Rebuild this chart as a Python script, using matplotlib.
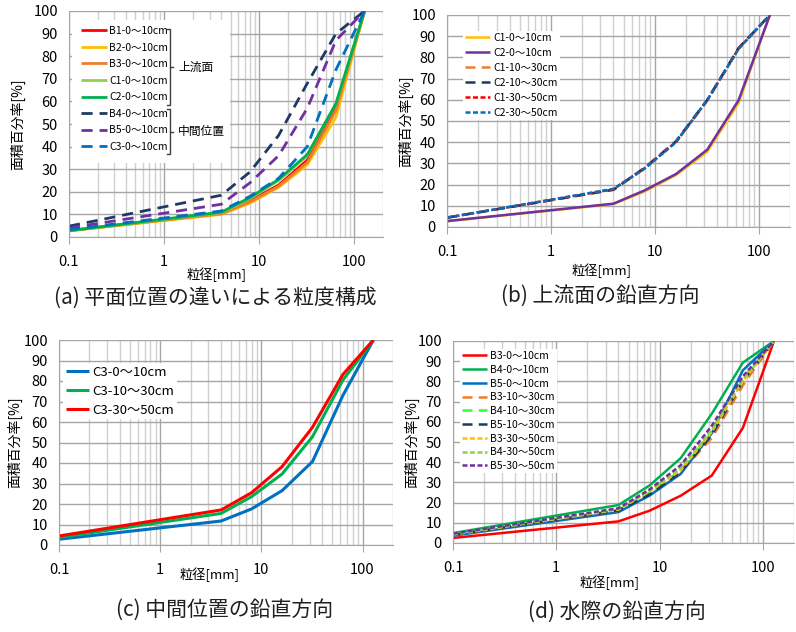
import numpy as np
import matplotlib
matplotlib.use('Agg')
import matplotlib.pyplot as plt
from matplotlib.lines import Line2D
from matplotlib.patches import Rectangle
from matplotlib.ticker import LogLocator, FuncFormatter, MultipleLocator

plt.rcParams['font.family'] = ['Noto Sans CJK JP', 'DejaVu Sans']

# sieve sizes [mm]
sizes = [0.1, 4, 8, 16, 32, 64, 128]

# (a) plane position
a_labels = ['B1-0～10cm', 'B2-0～10cm', 'B3-0～10cm', 'C1-0～10cm', 'C2-0～10cm',
            'B4-0～10cm', 'B5-0～10cm', 'C3-0～10cm']
a_values = [
    [2.8, 10.5, 16.0, 23.0, 34.0, 57.0, 100],
    [2.7, 10.0, 15.0, 22.0, 32.0, 53.0, 100],
    [2.8, 10.3, 15.5, 22.5, 33.0, 56.0, 100],
    [2.8, 10.8, 17.0, 25.0, 36.0, 59.0, 100],
    [2.8, 11.0, 17.5, 25.5, 36.5, 59.0, 100],
    [4.8, 18.5, 28.8, 45.0, 68.0, 90.0, 100],
    [4.0, 14.5, 24.0, 36.0, 57.0, 87.0, 100],
    [3.3, 11.5, 18.0, 26.0, 40.0, 74.0, 100],
]
a_colors = ['#FF0000', '#FFC000', '#ED7D31', '#92D050', '#00B050',
            '#1F3864', '#7030A0', '#0070C0']
a_styles = ['solid'] * 5 + ['long'] * 3

# (b) upstream face, vertical
b_labels = ['C1-0～10cm', 'C2-0～10cm', 'C1-10～30cm', 'C2-10～30cm',
            'C1-30～50cm', 'C2-30～50cm']
b_values = [
    [2.7, 10.8, 16.8, 24.5, 35.5, 58.5, 100],
    [2.8, 11.0, 17.3, 25.0, 36.5, 59.8, 100],
    [4.5, 17.5, 27.5, 40.0, 59.5, 84.0, 100],
    [4.4, 17.6, 28.0, 40.5, 60.0, 84.5, 100],
    [4.4, 17.8, 27.8, 40.2, 59.8, 84.2, 100],
    [4.4, 18.0, 27.6, 40.0, 60.0, 84.0, 100],
]
b_colors = ['#FFC000', '#7030A0', '#ED7D31', '#1F3864', '#FF0000', '#0070C0']
b_styles = ['solid', 'solid', 'long', 'long', 'short', 'short']

# (c) middle position, vertical
c_labels = ['C3-0～10cm', 'C3-10～30cm', 'C3-30～50cm']
c_values = [
    [2.8, 11.7, 17.6, 26.5, 40.7, 73.0, 100],
    [3.7, 15.4, 23.6, 34.6, 52.8, 80.5, 100],
    [4.4, 17.1, 25.5, 38.2, 57.4, 83.2, 100],
]
c_colors = ['#0070C0', '#00B050', '#FF0000']
c_styles = ['solid'] * 3

# (d) waterline, vertical
d_labels = ['B3-0～10cm', 'B4-0～10cm', 'B5-0～10cm', 'B3-10～30cm', 'B4-10～30cm',
            'B5-10～30cm', 'B3-30～50cm', 'B4-30～50cm', 'B5-30～50cm']
d_values = [
    [2.5, 10.7, 16.0, 23.4, 33.4, 57.0, 100],
    [4.9, 18.8, 28.5, 42.0, 64.0, 89.3, 100],
    [3.6, 15.3, 23.5, 34.2, 54.3, 85.5, 100],
    [4.0, 16.0, 24.5, 35.0, 52.0, 78.0, 100],
    [4.2, 16.5, 25.0, 36.0, 55.0, 81.0, 100],
    [4.0, 16.0, 24.0, 35.0, 53.5, 80.0, 100],
    [4.2, 16.5, 25.5, 36.0, 55.0, 80.0, 100],
    [4.3, 16.8, 26.0, 37.0, 56.0, 81.0, 100],
    [4.6, 17.2, 26.5, 38.5, 58.0, 82.5, 100],
]
d_colors = ['#FF0000', '#00B050', '#0070C0', '#ED7D31', '#33FF33',
            '#1F3864', '#FFC000', '#92D050', '#7030A0']
d_styles = ['solid'] * 3 + ['long'] * 3 + ['short'] * 3

dash = {'solid': (0, ()), 'long': (0, (4, 2.5)), 'short': (0, (2, 1))}

W, H = 796, 632
fig = plt.figure(figsize=(W / 100, H / 100), dpi=100)


def px_ax(l, t, r, b):
    return fig.add_axes([l / W, 1 - b / H, (r - l) / W, (b - t) / H])


def style_axes(ax):
    ax.set_xscale('log')
    ax.set_xlim(0.1, 200)
    ax.set_ylim(0, 100)
    ax.yaxis.set_major_locator(MultipleLocator(10))
    ax.xaxis.set_major_locator(LogLocator(10, numticks=10))
    ax.xaxis.set_minor_locator(LogLocator(10, subs=np.arange(2, 10), numticks=10))
    ax.xaxis.set_major_formatter(FuncFormatter(lambda v, p: '%g' % v))
    ax.set_axisbelow(True)
    ax.grid(True, which='major', color='#A6A6A6', lw=1.0)
    ax.grid(True, which='minor', axis='x', color='#D0D0D0', lw=1.0)
    for s in ['top', 'right']:
        ax.spines[s].set_visible(False)
    for s in ['left', 'bottom']:
        ax.spines[s].set_color('#A6A6A6')
    ax.tick_params(axis='y', length=0, pad=8, labelsize=10.5)
    ax.tick_params(axis='x', which='major', length=5, color='#A6A6A6', pad=8, labelsize=10.5)
    ax.tick_params(axis='x', which='minor', length=0)
    ax.set_ylabel('面積百分率[%]', fontsize=10)
    ax.set_xlabel('粒径[mm]', fontsize=9.5)


def draw(ax, labels, values, colors, styles, lw=2.0):
    handles = []
    for lab, val, col, st in zip(labels, values, colors, styles):
        h, = ax.plot(sizes, val, color=col, lw=lw, linestyle=dash[st], label=lab,
                     solid_joinstyle='miter')
        handles.append(h)
    return handles


# (a)
ax_a = px_ax(69, 11, 383, 237)
style_axes(ax_a)
ha = draw(ax_a, a_labels, a_values, a_colors, a_styles)
ax_a.add_patch(Rectangle(((72 - 69) / 314, (237 - 163) / 226), (230 - 72) / 314, (163 - 20) / 226,
                         transform=ax_a.transAxes, facecolor='white', edgecolor='none', zorder=1.5))
leg = ax_a.legend(handles=ha, loc='upper left', bbox_to_anchor=((81 - 69) / 314, (237 - 26) / 226),
                  frameon=False, fontsize=7.5, handlelength=2.5, handletextpad=0.2,
                  labelspacing=0.63, borderpad=0, borderaxespad=0)
ax_a.yaxis.set_label_coords(-0.14, 0.5)
ax_a.xaxis.set_label_coords(0.47, -0.135)


def bracket(x, y0, y1, text):
    fx = x / W
    col = '#404040'
    fig.add_artist(Line2D([fx - 3 / W, fx, fx, fx - 3 / W], [1 - y0 / H, 1 - y0 / H, 1 - y1 / H, 1 - y1 / H],
                          color=col, lw=1.0))
    ym = (y0 + y1) / 2
    fig.add_artist(Line2D([fx, fx + 3 / W], [1 - ym / H, 1 - ym / H], color=col, lw=1.0))
    fig.text((x + 8) / W, 1 - ym / H, text, fontsize=8.5, va='center', ha='left')


bracket(170, 29, 105, '上流面')
bracket(170, 109, 154, '中間位置')

# (b)
ax_b = px_ax(447, 15, 790, 227)
style_axes(ax_b)
hb = draw(ax_b, b_labels, b_values, b_colors, b_styles, lw=1.8)
ax_b.legend(handles=hb, loc='upper left', bbox_to_anchor=((463 - 447) / 343, (227 - 31) / 212),
            frameon=True, facecolor='white', edgecolor='none', framealpha=1, fancybox=False,
            fontsize=7.5, handlelength=2.4, handletextpad=0.3, labelspacing=0.47,
            borderpad=0.2, borderaxespad=0)
ax_b.yaxis.set_label_coords(-0.1, 0.5)
ax_b.xaxis.set_label_coords(0.45, -0.17)

# (c)
ax_c = px_ax(59, 340, 393, 545)
style_axes(ax_c)
hc = draw(ax_c, c_labels, c_values, c_colors, c_styles, lw=2.2)
ax_c.legend(handles=hc, loc='upper left', bbox_to_anchor=((63 - 59) / 334, (545 - 363) / 205),
            frameon=True, facecolor='white', edgecolor='none', framealpha=1, fancybox=False,
            fontsize=9.5, handlelength=1.8, handletextpad=0.2, labelspacing=0.45,
            borderpad=0.2, borderaxespad=0)
ax_c.yaxis.set_label_coords(-0.11, 0.5)
ax_c.xaxis.set_label_coords(0.45, -0.11)

# (d)
ax_d = px_ax(453, 341, 794, 543)
style_axes(ax_d)
hd = draw(ax_d, d_labels, d_values, d_colors, d_styles, lw=1.8)
ax_d.legend(handles=hd, loc='upper left', bbox_to_anchor=((460 - 453) / 341, (543 - 349) / 202),
            frameon=True, facecolor='white', edgecolor='none', framealpha=1, fancybox=False,
            fontsize=7.5, handlelength=2.4, handletextpad=0.3, labelspacing=0.36,
            borderpad=0.2, borderaxespad=0)
ax_d.yaxis.set_label_coords(-0.1, 0.5)
ax_d.xaxis.set_label_coords(0.46, -0.16)

# captions
cap_kw = dict(fontsize=15, ha='center', va='center', color='#202020')
fig.text(215 / W, 1 - 298 / H, '(a) 平面位置の違いによる粒度構成', **cap_kw)
fig.text(600 / W, 1 - 296 / H, '(b) 上流面の鉛直方向', **cap_kw)
fig.text(225 / W, 1 - 610 / H, '(c) 中間位置の鉛直方向', **cap_kw)
fig.text(617 / W, 1 - 612 / H, '(d) 水際の鉛直方向', **cap_kw)

fig.savefig('out.png', dpi=100)
